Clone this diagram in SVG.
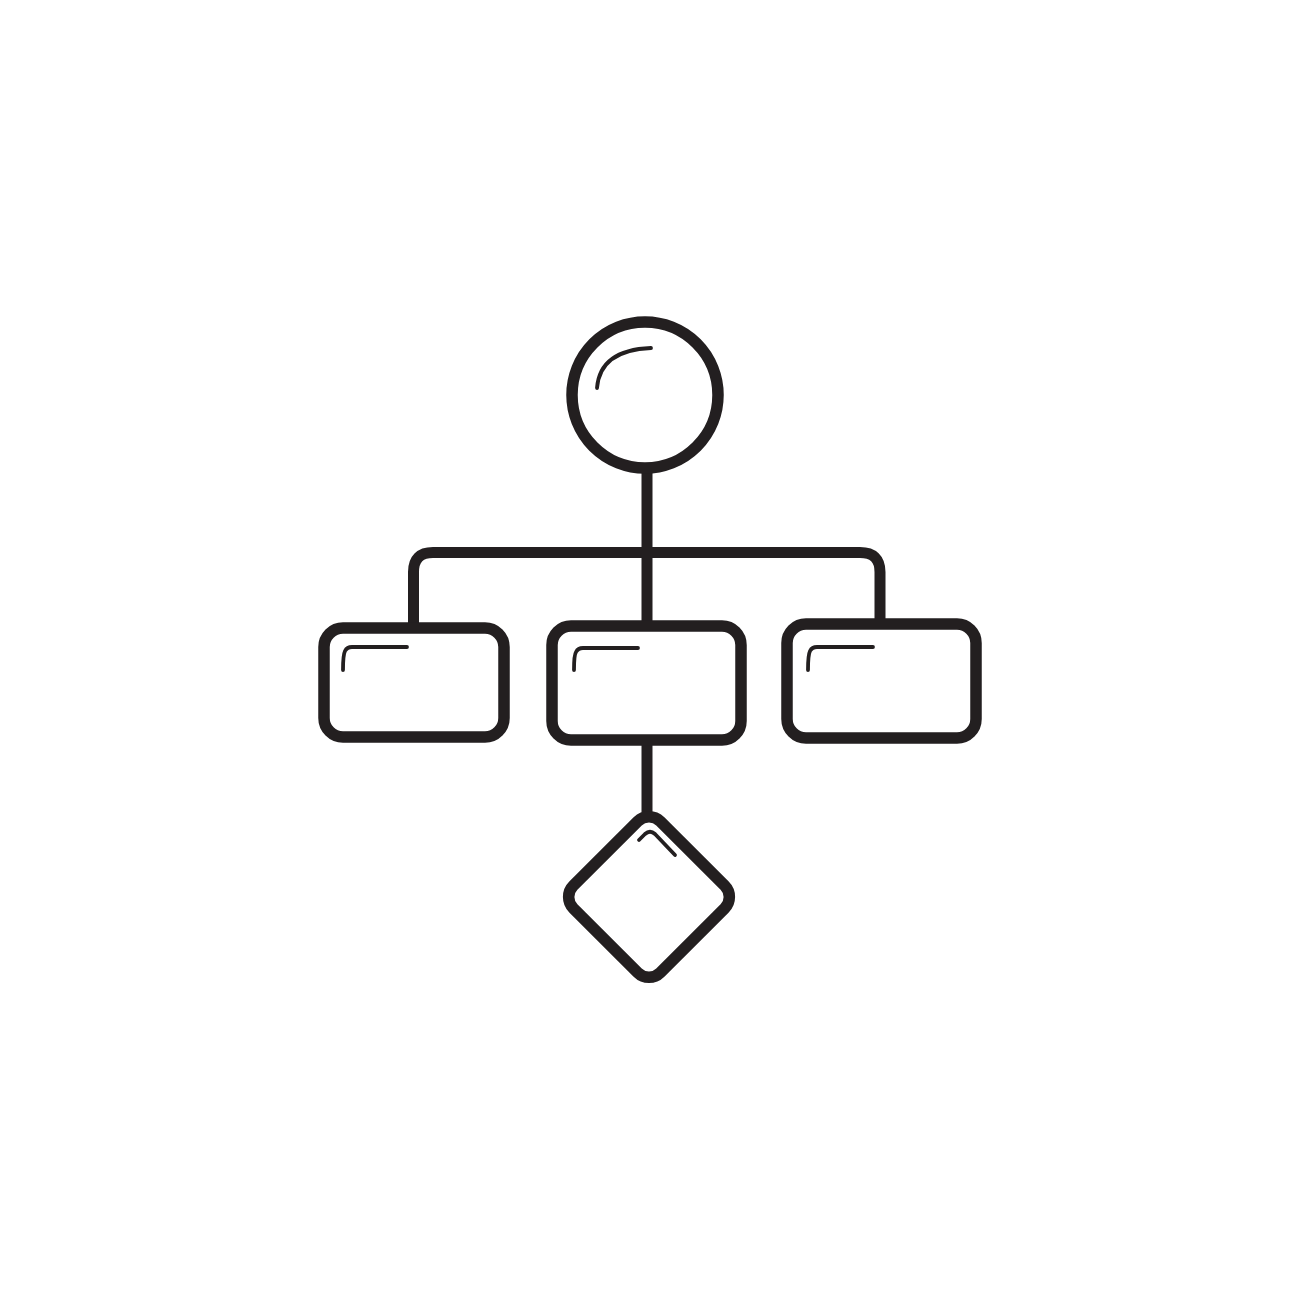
<svg xmlns="http://www.w3.org/2000/svg" width="1300" height="1300" viewBox="0 0 1300 1300">
  <style>
    .shape { fill: #ffffff; stroke: #231f20; stroke-width: 11.5; }
    .line { fill: none; stroke: #231f20; stroke-width: 11; stroke-linecap: butt; stroke-linejoin: round; }
    .hl { fill: none; stroke: #231f20; stroke-width: 3.8; stroke-linecap: round; stroke-linejoin: round; }
  </style>
  <rect x="0" y="0" width="1300" height="1300" fill="#ffffff"/>
  <g id="connectors">
    <path class="line" d="M647 470 V626"/>
    <path class="line" d="M413.5 628 V572 Q413.5 552.5 433 552.5 H860 Q880 552.5 880 572 V624"/>
    <path class="line" d="M647 740 V816"/>
  </g>
  <g id="node-start">
    <circle class="shape" cx="645" cy="395" r="73"/>
    <path class="hl" d="M597 388 Q600 350 651 348"/>
  </g>
  <g id="node-left">
    <rect class="shape" x="324" y="628" width="180" height="109" rx="19"/>
    <path class="hl" d="M343 670 Q343 655 345 651 Q347 647 352 647 H407"/>
  </g>
  <g id="node-middle">
    <rect class="shape" x="552" y="626" width="189" height="114" rx="19"/>
    <path class="hl" d="M574 670 Q574 655 576 652 Q578 648 583 648 H638"/>
  </g>
  <g id="node-right">
    <rect class="shape" x="787" y="624" width="189" height="114" rx="19"/>
    <path class="hl" d="M808 670 Q808 655 810 651 Q812 647 817 647 H873"/>
  </g>
  <g id="node-decision">
    <rect class="shape" x="587.5" y="835.5" width="123" height="123" rx="16" transform="rotate(45 649 897)"/>
    <path class="hl" d="M639 840 L645 834 Q650 829.5 655 834 L675 855"/>
  </g>
</svg>
